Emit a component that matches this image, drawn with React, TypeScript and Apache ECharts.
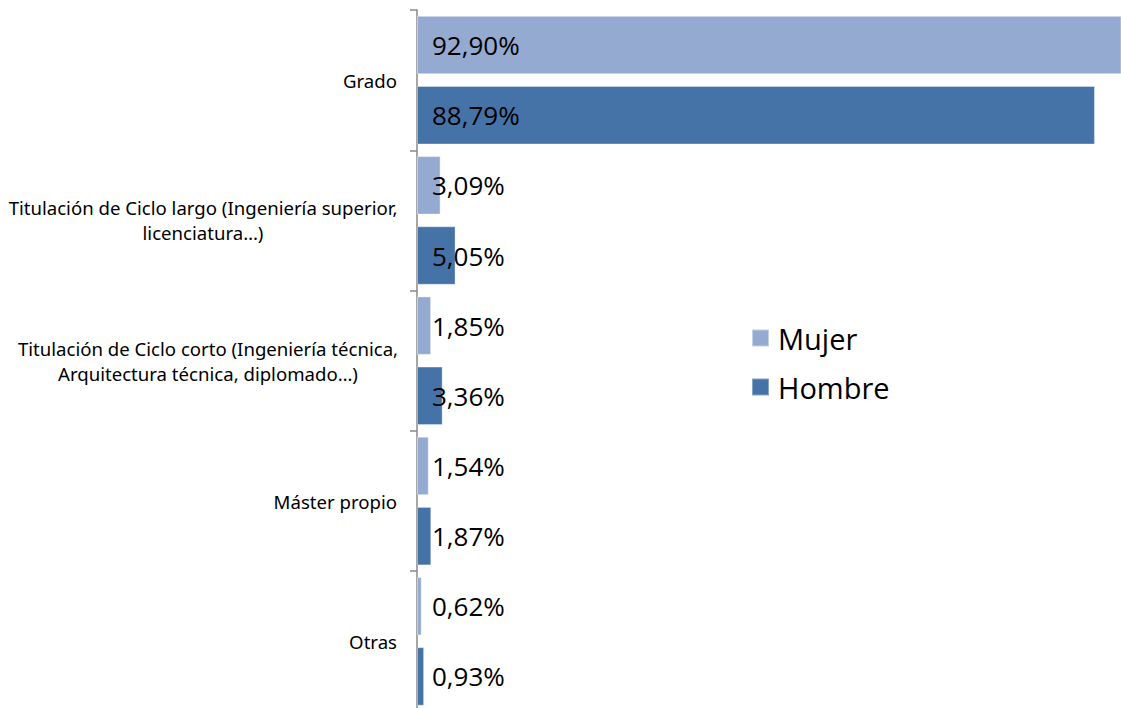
import React, { useEffect, useRef } from "react";
import * as echarts from "echarts";

const categories = [
  "Grado",
  "Titulación de Ciclo largo (Ingeniería superior,\nlicenciatura…)",
  "Titulación de Ciclo corto (Ingeniería técnica,\nArquitectura técnica, diplomado…)",
  "Máster propio",
  "Otras",
];
const seriesNames = ["Mujer", "Hombre"];
const mujer = [92.9, 3.09, 1.85, 1.54, 0.62];
const hombre = [88.79, 5.05, 3.36, 1.87, 0.93];
const colors = ["#94AAD1", "#4673A7"];

// horizontal shift (px) used to centre the two-line labels under their first line
const multiLineShift = [0, 388, 378, 0, 0];

const fmt = (v: number) => v.toFixed(2).replace(".", ",") + "%";

export default function App() {
  const ref = useRef<HTMLDivElement>(null);
  useEffect(() => {
    if (!ref.current) return;
    const chart = echarts.init(ref.current, null, { renderer: "svg" });
    const label = {
      show: true,
      position: "insideLeft" as const,
      distance: 15,
      color: "#000",
      fontSize: 26,
      fontFamily: "Open Sans",
      padding: [0, 0, 2, 0],
      formatter: (p: any) => fmt(p.value),
    };
    const yData = categories.map((c, i) =>
      multiLineShift[i]
        ? { value: c, textStyle: { align: "center", padding: [0, multiLineShift[i], 6, 0] } }
        : { value: c, textStyle: { align: "right", padding: [0, 0, 6, 0] } }
    );
    chart.setOption({
      animation: false,
      backgroundColor: "#fff",
      grid: { left: 417, top: 10, height: 701.5, right: 0, outerBoundsMode: "none", containLabel: false },
      legend: {
        orient: "vertical",
        left: 746,
        top: 317,
        itemWidth: 17,
        itemHeight: 17,
        itemGap: 17,
        icon: "rect",
        data: seriesNames,
        textStyle: {
          fontSize: 29,
          fontFamily: "Open Sans",
          color: "#000",
          lineHeight: 32,
          padding: [0, 0, 0, 4],
        },
      },
      xAxis: {
        type: "value",
        min: 0,
        max: 92.2,
        show: false,
        splitLine: { show: false },
      },
      yAxis: {
        type: "category",
        data: yData,
        inverse: true,
        axisLine: { show: true, lineStyle: { color: "#888", width: 1.5 } },
        axisTick: { show: true, length: 7, lineStyle: { color: "#888", width: 1.5 } },
        axisLabel: {
          margin: 20,
          color: "#000",
          fontSize: 18.6,
          fontFamily: "Noto Sans",
          lineHeight: 25,
        },
      },
      series: [
        {
          name: seriesNames[0],
          type: "bar",
          data: mujer,
          clip: true,
          barWidth: 58.5,
          barGap: "20%",
          itemStyle: { color: colors[0], borderColor: "rgba(255,255,255,0.45)", borderWidth: 1 },
          label,
        },
        {
          name: seriesNames[1],
          type: "bar",
          data: hombre,
          clip: true,
          barWidth: 58.5,
          barGap: "20%",
          itemStyle: { color: colors[1], borderColor: "rgba(255,255,255,0.35)", borderWidth: 1 },
          label,
        },
      ],
    });
    return () => chart.dispose();
  }, []);
  return (
    <div
      ref={ref}
      style={{ position: "fixed", left: 0, top: 0, width: 1121, height: 708 }}
    />
  );
}
